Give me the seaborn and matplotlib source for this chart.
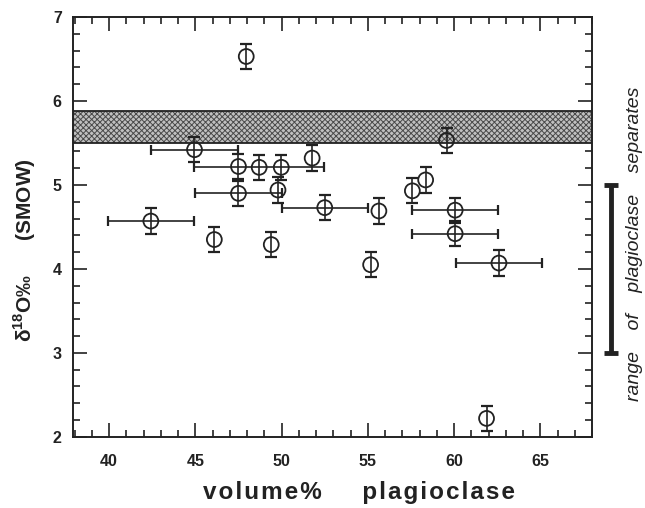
import matplotlib
matplotlib.use("Agg")
import matplotlib.pyplot as plt
import matplotlib.transforms as mtransforms
from matplotlib.ticker import MultipleLocator
import numpy as np
import pandas as pd
import seaborn as sns

# plagioclase volume% and delta18O values
plag = [47.95, 44.95, 47.5, 48.7, 49.98, 51.77, 47.5, 49.79, 52.5, 55.64,
        42.42, 46.1, 49.4, 59.56, 57.58, 58.35, 60.06, 60.06, 55.16, 62.6, 61.88]
d18o = [6.53, 5.42, 5.22, 5.21, 5.21, 5.32, 4.90, 4.94, 4.73, 4.69,
        4.57, 4.35, 4.29, 5.53, 4.93, 5.06, 4.70, 4.42, 4.05, 4.07, 2.22]
plag_err = [0, 2.5, 0, 3.75, 0, 0, 2.5, 0, 2.5, 0,
            2.5, 0, 0, 0, 0, 0, 2.5, 2.5, 0, 2.5, 0]
d18o_err = [0.15] * 21

# band of mantle-like values and range of plagioclase separates
band_lo, band_hi = 5.5, 5.88
sep_lo, sep_hi = 3.0, 5.0

df = pd.DataFrame({"plag": plag, "d18o": d18o, "xerr": plag_err, "yerr": d18o_err})

sns.set_style("ticks")
plt.rcParams["font.family"] = ["Liberation Sans", "DejaVu Sans"]
plt.rcParams["hatch.linewidth"] = 0.7
plt.rcParams["mathtext.fontset"] = "custom"
plt.rcParams["mathtext.rm"] = "Liberation Sans:bold"

fig = plt.figure(figsize=(6.45, 5.08), dpi=100)
ax = fig.add_axes([0.113, 0.14, 0.805, 0.8265])

ink = "#222222"

# stippled band
ax.axhspan(band_lo, band_hi, facecolor="#c0c0c0", edgecolor="#4a4a4a",
           hatch="xxxxxx", lw=0, zorder=1)
ax.axhline(band_lo, color=ink, lw=1.3, zorder=2)
ax.axhline(band_hi, color=ink, lw=1.3, zorder=2)

# error bars
ax.errorbar(df["plag"], df["d18o"], yerr=df["yerr"], fmt="none", ecolor=ink,
            elinewidth=1.2, capsize=4, capthick=1.6, zorder=3)
hx = df[df["xerr"] > 0]
ax.errorbar(hx["plag"], hx["d18o"], xerr=hx["xerr"], fmt="none", ecolor=ink,
            elinewidth=1.2, capsize=3.5, capthick=1.6, zorder=3)

sns.scatterplot(data=df, x="plag", y="d18o", ax=ax, marker="o", s=115,
                facecolor="none", edgecolor=ink, linewidth=1.3, zorder=4)

ax.set_xlim(37.9, 68.0)
ax.set_ylim(2, 7)
ax.xaxis.set_major_locator(MultipleLocator(5))
ax.xaxis.set_minor_locator(MultipleLocator(1))
ax.yaxis.set_major_locator(MultipleLocator(1))
ax.yaxis.set_minor_locator(MultipleLocator(0.2))
ax.tick_params(which="both", direction="in", top=True, right=True,
               color=ink, width=1.2, labelsize=11.5, labelcolor=ink)
ax.tick_params(which="major", length=10)
ax.tick_params(which="minor", length=5)
ax.tick_params(axis="x", which="major", pad=12)
ax.tick_params(axis="y", which="major", pad=8)
for lab in ax.get_xticklabels() + ax.get_yticklabels():
    lab.set_fontweight("bold")
for s in ax.spines.values():
    s.set_linewidth(1.4)
    s.set_color(ink)

hs = "\u200a"
ax.set_xlabel(hs.join("volume%") + "      " + hs.join("plagioclase"),
              fontsize=17.5, fontweight="bold", color=ink)
ax.xaxis.set_label_coords(0.551, -0.105)
ax.set_ylabel("δ$^{18}$O‰      (SMOW)", fontsize=15, fontweight="bold",
              color=ink)
ax.yaxis.set_label_coords(-0.068, 0.445)

# range of plagioclase separates, outside the right axis
trans = mtransforms.blended_transform_factory(ax.transAxes, ax.transData)
ax.plot([1.037, 1.037], [sep_lo, sep_hi], color=ink, lw=3.5,
        transform=trans, clip_on=False, solid_capstyle="butt")
ax.plot([1.037, 1.037], [sep_lo, sep_hi], color=ink, lw=0, marker="_",
        markersize=10, markeredgewidth=3.5, transform=trans, clip_on=False)
ax.text(1.082, 4.3, "range    of    plagioclase    separates", transform=trans,
        rotation=90, ha="center", va="center", fontsize=14, style="italic",
        color=ink)

fig.savefig("out.png", dpi=100)
